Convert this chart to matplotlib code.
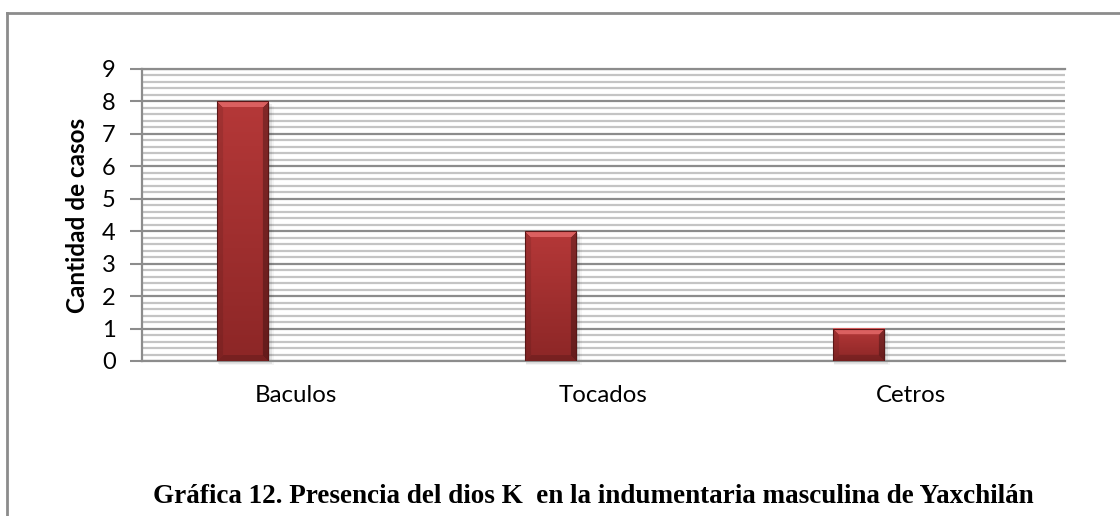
import matplotlib.pyplot as plt
import numpy as np
from matplotlib.lines import Line2D
from matplotlib.patches import Rectangle
from matplotlib.ticker import MultipleLocator

plt.rcParams['font.family'] = ['Lato', 'DejaVu Sans']

categorias = ['Baculos', 'Tocados', 'Cetros']
casos = [8, 4, 1]
y_max = 9

titulo_y = 'Cantidad de casos'
leyenda = 'Gráfica 12. Presencia del dios K  en la indumentaria masculina de Yaxchilán'

gris = '#8c8c8c'
rojo_arriba = np.array([0.71, 0.22, 0.22])
rojo_abajo = np.array([0.55, 0.15, 0.15])


def barra_biselada(ax, x0, ancho, alto, bisel=6):
    # tamaño de la barra en pixeles para dibujar el bisel
    p0 = ax.transData.transform((x0, 0))
    p1 = ax.transData.transform((x0 + ancho, alto))
    pw = max(int(round(p1[0] - p0[0])), 2)
    ph = max(int(round(p1[1] - p0[1])), 2)
    yy, xx = np.mgrid[0:ph, 0:pw]
    t = (yy / (ph - 1))[..., None]
    img = rojo_arriba * (1 - t) + rojo_abajo * t

    d_sup = yy
    d_inf = ph - 1 - yy
    d_izq = xx
    d_der = pw - 1 - xx
    d_min = np.minimum(np.minimum(d_sup, d_inf), np.minimum(d_izq, d_der))
    borde = d_min < bisel
    img[borde & (d_sup == d_min)] = [0.86, 0.38, 0.38]
    lados = borde & (d_sup != d_min)
    img[lados & (d_izq == d_min)] *= 0.9
    img[lados & (d_der == d_min)] *= 0.72
    img[lados & (d_inf == d_min) & (d_izq != d_min) & (d_der != d_min)] *= 0.85

    # sombra difusa
    for k, a in enumerate([0.10, 0.07, 0.04]):
        dx = (k + 1) * 1.5 / (p1[0] - p0[0]) * ancho
        dy = (k + 1) * 1.5 * y_max / ax.bbox.height
        ax.add_patch(Rectangle((x0 + dx * 0.3, -dy), ancho + dx, alto, color='black',
                               alpha=a, lw=0, zorder=2, clip_on=False))

    ax.imshow(img, extent=(x0, x0 + ancho, 0, alto), aspect='auto',
              interpolation='bilinear', zorder=3)
    ax.add_patch(Rectangle((x0, 0), ancho, alto, fill=False, edgecolor='#5a1616',
                           lw=0.8, zorder=4))


fig = plt.figure(figsize=(11.2, 5.16), dpi=100)
ax = fig.add_axes([0.1268, 0.3004, 0.8241, 0.5659])

x = np.arange(len(categorias))
ax.set_xlim(-0.5, len(categorias) - 0.5)
ax.set_ylim(0, y_max)

ax.yaxis.set_major_locator(MultipleLocator(1))
ax.yaxis.set_minor_locator(MultipleLocator(0.2))
ax.grid(which='minor', axis='y', color='#c4c4c4', lw=1.6)
ax.grid(which='major', axis='y', color=gris, lw=1.6)
ax.set_axisbelow(True)

ancho = 0.166
for xi, v in zip(x, casos):
    barra_biselada(ax, xi - 0.172 - ancho / 2, ancho, v)

ax.set_xticks(x)
ax.set_xticklabels(categorias, fontsize=17.3)
ax.tick_params(axis='x', length=0, pad=17)
ax.tick_params(axis='y', which='major', length=9, width=1.5, color=gris,
               labelsize=17, pad=10)
ax.tick_params(axis='y', which='minor', length=0)

ax.spines['right'].set_visible(False)
for lado in ['left', 'bottom', 'top']:
    ax.spines[lado].set_color(gris)
    ax.spines[lado].set_linewidth(1.6)

ax.set_ylabel(titulo_y, fontsize=17.5, fontweight='bold')
ax.yaxis.set_label_coords(-0.057, 0.5, transform=ax.transAxes)

fig.text(0.5295, 0.037, leyenda, ha='center', va='center', fontsize=19.5,
         fontweight='bold', family=['Liberation Serif', 'DejaVu Serif'])

# marco exterior
fig.add_artist(Line2D([7 / 1120, 7 / 1120], [0, 1 - 13 / 516], color=gris, lw=2))
fig.add_artist(Line2D([7 / 1120, 1], [1 - 13 / 516, 1 - 13 / 516], color=gris, lw=2))

fig.savefig('out.png', dpi=100)
